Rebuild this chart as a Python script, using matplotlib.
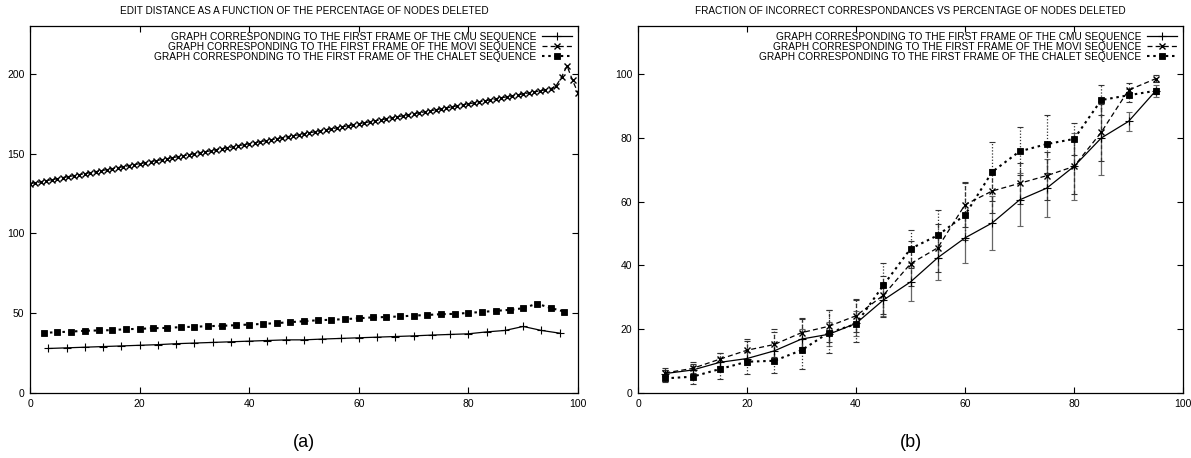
import matplotlib
matplotlib.use("Agg")
import matplotlib.pyplot as plt
from matplotlib.lines import Line2D

plt.rcParams['font.family'] = ['Liberation Sans Narrow', 'Liberation Sans', 'DejaVu Sans']

# ---------------- data: panel (a) ----------------
labels = ["GRAPH CORRESPONDING TO THE FIRST FRAME OF THE CMU SEQUENCE",
          "GRAPH CORRESPONDING TO THE FIRST FRAME OF THE MOVI SEQUENCE",
          "GRAPH CORRESPONDING TO THE FIRST FRAME OF THE CHALET SEQUENCE"]

a_cmu_x = [3.33, 6.67, 10.0, 13.33, 16.67, 20.0, 23.33, 26.67, 30.0, 33.33,
           36.67, 40.0, 43.33, 46.67, 50.0, 53.33, 56.67, 60.0, 63.33, 66.67,
           70.0, 73.33, 76.67, 80.0, 83.33, 86.67, 90.0, 93.33, 96.67]
a_cmu_y = [27.9, 28.3, 28.7, 29.1, 29.5, 29.9, 30.3, 30.9, 31.3, 31.7,
           32.1, 32.5, 32.9, 33.3, 33.3, 33.8, 34.2, 34.6, 35.0, 35.4,
           35.8, 36.3, 36.7, 37.1, 38.3, 39.2, 41.7, 39.2, 37.5]

a_movi_x = list(range(0, 101))
a_movi_y = [131.2, 131.8, 132.4, 133.1, 133.7, 134.3, 135.0, 135.6, 136.2, 136.8,
            137.5, 138.1, 138.7, 139.3, 140.0, 140.6, 141.2, 141.8, 142.5, 143.1,
            143.7, 144.3, 145.0, 145.6, 146.2, 146.8, 147.5, 148.1, 148.7, 149.3,
            150.0, 150.6, 151.2, 151.8, 152.5, 153.1, 153.7, 154.3, 155.0, 155.6,
            156.2, 156.8, 157.5, 158.1, 158.7, 159.3, 160.0, 160.6, 161.2, 161.8,
            162.5, 163.1, 163.7, 164.3, 165.0, 165.6, 166.2, 166.8, 167.5, 168.1,
            168.7, 169.3, 170.0, 170.6, 171.2, 171.8, 172.5, 173.1, 173.7, 174.3,
            175.0, 175.6, 176.2, 176.8, 177.5, 178.1, 178.7, 179.3, 180.0, 180.6,
            181.2, 181.8, 182.5, 183.1, 183.7, 184.3, 185.0, 185.6, 186.2, 186.8,
            187.5, 188.1, 188.7, 189.3, 190.0, 190.6, 192.5, 198.0, 205.0, 196.0,
            188.0]

a_chalet_x = [2.5, 5.0, 7.5, 10.0, 12.5, 15.0, 17.5, 20.0, 22.5, 25.0,
              27.5, 30.0, 32.5, 35.0, 37.5, 40.0, 42.5, 45.0, 47.5, 50.0,
              52.5, 55.0, 57.5, 60.0, 62.5, 65.0, 67.5, 70.0, 72.5, 75.0,
              77.5, 80.0, 82.5, 85.0, 87.5, 90.0, 92.5, 95.0, 97.5]
a_chalet_y = [37.7, 38.1, 38.5, 39.0, 39.2, 39.4, 40.0, 40.2, 40.6, 40.8,
              41.3, 41.5, 41.9, 42.1, 42.5, 42.9, 43.3, 43.8, 44.4, 45.0,
              45.6, 45.9, 46.3, 46.8, 47.4, 47.6, 48.0, 48.5, 48.9, 49.4,
              49.6, 50.2, 50.8, 51.5, 52.1, 53.1, 56.0, 53.3, 51.0]

# ---------------- data: panel (b) ----------------
b_x = [5, 10, 15, 20, 25, 30, 35, 40, 45, 50, 55, 60, 65, 70, 75, 80, 85, 90, 95]
b_cmu_y = [6.1, 7.2, 9.6, 10.8, 13.2, 16.9, 18.4, 21.8, 29.1, 34.8,
           42.4, 48.6, 53.3, 60.5, 64.2, 71.0, 79.9, 85.1, 94.7]
b_cmu_err = [1.0, 1.3, 1.5, 2.0, 2.5, 3.2, 3.8, 4.0, 5.0, 6.0,
             7.0, 7.8, 8.4, 8.3, 9.1, 10.5, 11.6, 2.9, 1.9]
b_movi_y = [6.3, 7.7, 10.6, 13.4, 15.2, 18.9, 20.9, 24.2, 30.6, 40.5,
            45.5, 59.0, 63.3, 65.7, 68.1, 71.0, 81.7, 94.9, 98.5]
b_movi_err = [1.0, 1.5, 2.0, 3.0, 4.0, 4.5, 5.0, 5.0, 6.0, 7.0,
              7.5, 7.0, 7.0, 6.5, 7.5, 8.5, 9.0, 2.2, 1.0]
b_chalet_y = [4.6, 5.1, 7.5, 9.8, 10.1, 13.4, 18.9, 21.6, 33.7, 45.2,
              49.4, 55.8, 69.3, 75.7, 78.0, 79.6, 91.8, 93.3, 94.7]
b_chalet_err_lo = [1.1, 2.3, 3.2, 3.9, 3.9, 5.9, 6.3, 5.6, 10.0, 6.0,
                   7.0, 8.0, 9.0, 7.5, 9.0, 5.0, 4.7, 2.0, 1.0]
b_chalet_err_hi = [3.1, 4.7, 4.9, 7.0, 9.9, 9.9, 7.1, 8.0, 7.0, 5.9,
                   8.1, 9.9, 9.3, 7.5, 9.2, 4.9, 4.7, 2.0, 1.0]

a_title = "EDIT DISTANCE AS A FUNCTION OF THE PERCENTAGE OF NODES DELETED"
b_title = "FRACTION OF INCORRECT CORRESPONDANCES VS PERCENTAGE OF NODES DELETED"

# ---------------- figure ----------------
W, H = 1191, 458
fig = plt.figure(figsize=(W / 100, H / 100), dpi=100)

def px_axes(left, top, right, bottom):
    return fig.add_axes([left / W, 1 - bottom / H, (right - left) / W, (bottom - top) / H])

ax1 = px_axes(30, 26, 578, 393)
ax2 = px_axes(638, 26, 1183, 393)

lw = 0.9
st_cmu = dict(color='black', linestyle='-', marker='+', markersize=6, markeredgewidth=0.8, linewidth=lw)
st_movi = dict(color='black', linestyle=(0, (4, 2.5)), marker='x', markersize=5, markeredgewidth=1.0, linewidth=lw)
st_chalet = dict(color='black', linestyle=(0, (1.2, 1.8)), marker='s', markersize=4.2,
                 markeredgewidth=0.6, linewidth=1.5)

# panel (a)
ax1.plot(a_cmu_x, a_cmu_y, **st_cmu)
ax1.plot(a_movi_x, a_movi_y, **st_movi)
ax1.plot(a_chalet_x, a_chalet_y, **st_chalet)
ax1.set_xlim(0, 100)
ax1.set_ylim(0, 230)
ax1.set_xticks([0, 20, 40, 60, 80, 100])
ax1.set_yticks([0, 50, 100, 150, 200])

# panel (b)
def eb(ax, x, y, e, ls, col):
    res = ax.errorbar(x, y, yerr=e, fmt='none', ecolor=col, elinewidth=0.9, capsize=2.2, capthick=0.8)
    for c in res[2]:
        c.set_linestyle(ls)

eb(ax2, b_x, b_cmu_y, b_cmu_err, '-', '#666666')
eb(ax2, b_x, b_movi_y, b_movi_err, (0, (3, 2)), '#333333')
eb(ax2, b_x, b_chalet_y, [b_chalet_err_lo, b_chalet_err_hi], (0, (1, 1.5)), '#333333')
ax2.plot(b_x, b_cmu_y, **st_cmu)
ax2.plot(b_x, b_movi_y, **st_movi)
ax2.plot(b_x, b_chalet_y, **st_chalet)
ax2.set_xlim(0, 100)
ax2.set_ylim(0, 115)
ax2.set_xticks([0, 20, 40, 60, 80, 100])
ax2.set_yticks([0, 20, 40, 60, 80, 100])

handles = [Line2D([], [], **st_cmu), Line2D([], [], **st_movi), Line2D([], [], **st_chalet)]

for ax, title, tag in ((ax1, a_title, "(a)"), (ax2, b_title, "(b)")):
    ax.tick_params(direction='in', length=4, width=0.8, top=True, right=True,
                   labelsize=7.5, pad=4)
    for sp in ax.spines.values():
        sp.set_linewidth(0.9)
    ax.set_title(title, fontsize=7.2, pad=9)
    ax.legend(handles, labels, loc='upper right', frameon=False, markerfirst=False,
              fontsize=7.3, handlelength=3.0, handletextpad=0.6, labelspacing=0.02,
              borderaxespad=0.35, borderpad=0.2)
    ax.text(0.5, -0.135, tag, transform=ax.transAxes, ha='center', va='center',
            fontsize=13, family=['Liberation Sans', 'DejaVu Sans'])

fig.savefig("out.png", dpi=100)
